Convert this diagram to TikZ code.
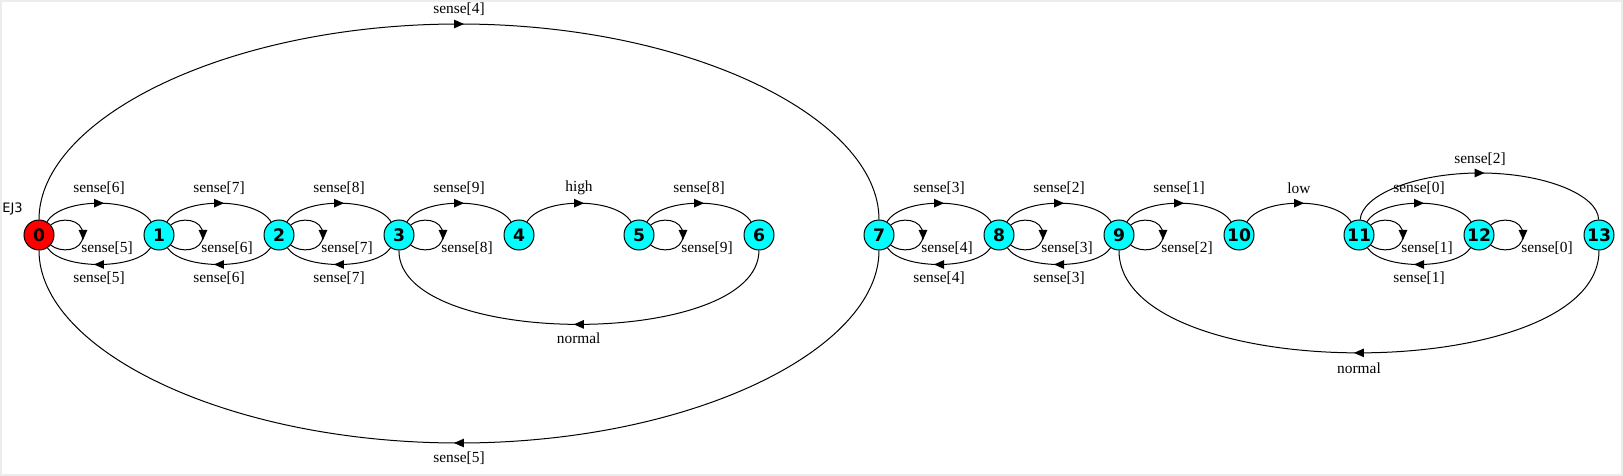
\documentclass[tikz,border=0pt]{standalone}
\usepackage{fontspec}
\setmainfont{Liberation Serif}
\newfontfamily\djv{DejaVu Sans}
\usetikzlibrary{decorations.markings,calc}
\definecolor{framegray}{RGB}{236,236,236}
\definecolor{nodecyan}{RGB}{0,255,255}
\definecolor{nodered}{RGB}{255,0,0}
\newcommand\topedge[4]{%
  \draw[mid] (#1) .. controls ($(#1)+(23,-38)$) and ($(#2)+(-23,-38)$) .. (#2)
    node[lbl,midway,yshift=7.5pt] (#4) {#3};}
\newcommand\botedge[4]{%
  \draw[mid] (#1) .. controls ($(#1)+(-23,35)$) and ($(#2)+(23,35)$) .. (#2)
    node[lbl,midway,yshift=-7pt] (#4) {#3};}
\newcommand\loopedge[3]{%
  \draw[mid] (#1) .. controls ($(#1)+(21,-18)$) and ($(#1)+(44,-17)$) .. ($(#1)+(44,0)$)
    .. controls ($(#1)+(44,17)$) and ($(#1)+(21,18)$) .. (#1);
  \node[lbl] (#3) at ($(#1)+(68,13)$) {#2};}
\begin{document}
\begin{tikzpicture}[x=0.5pt,y=-0.5pt,
  st/.style={circle,draw=black,line width=0.5pt,fill=nodecyan,minimum size=15pt,inner sep=0pt,
    font=\djv\bfseries\fontsize{8.6}{8.6}\selectfont},
  lbl/.style={font=\fontsize{7.7}{8}\selectfont,inner sep=0pt},
  mid/.style={line width=0.5pt,postaction={decorate},
    decoration={markings,mark=at position 0.5 with {\fill (-2.5pt,-2.2pt) -- (2.5pt,0pt) -- (-2.5pt,2.2pt) -- cycle;}}}
]
\useasboundingbox (0,0) rectangle (1623,476);
\fill[white] (0,0) rectangle (1623,476);
\draw[framegray,line width=1pt] (1,1) rectangle (1622,475);

\node[font=\djv\fontsize{6.5}{7}\selectfont,inner sep=0pt] (title) at (12.5,209) {EJ3};

\node[st,fill=nodered] (n0) at (39,235) {0};
\foreach \i in {1,...,13} \node[st] (n\i) at ({39+120*\i},235) {\i};

% adjacent forward arcs
\topedge{n0}{n1}{sense[6]}{t01}
\topedge{n1}{n2}{sense[7]}{t12}
\topedge{n2}{n3}{sense[8]}{t23}
\topedge{n3}{n4}{sense[9]}{t34}
\topedge{n4}{n5}{high}{t45}
\topedge{n5}{n6}{sense[8]}{t56}
\topedge{n7}{n8}{sense[3]}{t78}
\topedge{n8}{n9}{sense[2]}{t89}
\topedge{n9}{n10}{sense[1]}{t910}
\topedge{n10}{n11}{low}{t1011}
\topedge{n11}{n12}{sense[0]}{t1112}

% backward arcs
\botedge{n1}{n0}{sense[5]}{b10}
\botedge{n2}{n1}{sense[6]}{b21}
\botedge{n3}{n2}{sense[7]}{b32}
\botedge{n8}{n7}{sense[4]}{b87}
\botedge{n9}{n8}{sense[3]}{b98}
\botedge{n12}{n11}{sense[1]}{b1211}

% self loops
\loopedge{n0}{sense[5]}{s0}
\loopedge{n1}{sense[6]}{s1}
\loopedge{n2}{sense[7]}{s2}
\loopedge{n3}{sense[8]}{s3}
\loopedge{n5}{sense[9]}{s5}
\loopedge{n7}{sense[4]}{s7}
\loopedge{n8}{sense[3]}{s8}
\loopedge{n9}{sense[2]}{s9}
\loopedge{n11}{sense[1]}{s11}
\loopedge{n12}{sense[0]}{s12}

% big arcs 0 <-> 7
\draw[mid] (n0) .. controls (39,118.5) and (227,24) .. (459,24)
  node[lbl,yshift=7.5pt] (t07) {sense[4]}
  .. controls (691,24) and (879,118.5) .. (n7);
\draw[mid] (n7) .. controls (879,350) and (691,443) .. (459,443)
  node[lbl,yshift=-7.5pt] (b70) {sense[5]}
  .. controls (227,443) and (39,350) .. (n0);

% normal arcs
\draw[mid] (n6) .. controls (758.7,349) and (398.5,349) .. (n3)
  node[lbl,midway,yshift=-7pt] (nm63) {normal};
\draw[mid] (n13) .. controls (1599,387) and (1119,387) .. (n9)
  node[lbl,midway,yshift=-7.5pt] (nm139) {normal};

% 11 -> 13
\draw[mid] (n11) .. controls (1362,195) and (1415,173) .. (1480,173)
  node[lbl,yshift=7pt] (t1113) {sense[2]}
  .. controls (1545,173) and (1598,195) .. (n13);
\end{tikzpicture}
\end{document}
